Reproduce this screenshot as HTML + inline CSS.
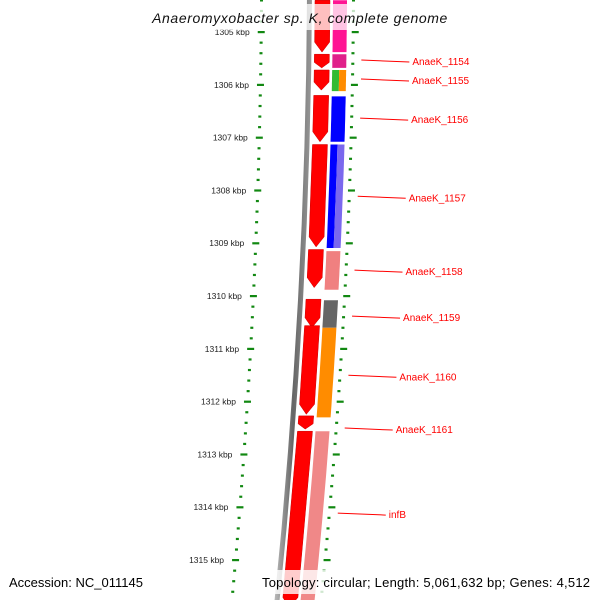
<!DOCTYPE html>
<html><head><meta charset="utf-8"><style>
html,body{margin:0;padding:0;background:#fff;}
svg{display:block;font-family:"Liberation Sans",sans-serif;}
</style></head><body>
<svg id="map" width="600" height="600" viewBox="0 0 600 600">
<defs>
<linearGradient id="gBack" x1="0" x2="1"><stop offset="0" stop-color="#bbb"/><stop offset="0.5" stop-color="#666"/><stop offset="1" stop-color="#999"/></linearGradient>
</defs>
<g id="layer"></g>
<rect x="140" y="4" width="320" height="26" fill="#fff" opacity="0.75"/>
<text x="300" y="23" text-anchor="middle" font-size="14" font-style="italic" letter-spacing="0.6" fill="#111">Anaeromyxobacter sp. K, complete genome</text>
<rect x="258" y="570" width="340" height="24" fill="#fff" opacity="0.8"/>
<text x="9" y="587" font-size="13" fill="#000">Accession: NC_011145</text>
<text x="262" y="587" font-size="13" fill="#000" textLength="328" lengthAdjust="spacing">Topology: circular; Length: 5,061,632 bp; Genes: 4,512</text>
</svg>
<script>
const tickKbp = [1305,1306,1307,1308,1309,1310,1311,1312,1313,1314,1315];
const fwdStart = [1304.4,1305.42,1305.72,1306.2,1307.13,1309.12,1310.06,1310.56,1312.27,1312.56];
const fwdEnd   = [1305.38,1305.68,1306.1,1307.08,1309.07,1309.84,1310.6,1312.24,1312.52,1315.9];
const revStart = [1304.4,1305.42,1305.72,1306.22,1307.13,1309.15,1310.08,1310.6,1312.56];
const revEnd   = [1305.38,1305.68,1306.12,1307.08,1309.09,1309.88,1310.6,1312.3,1315.9];
const revColor = ["#ff1493","#e0208a","green-orange","#0000ff","blue-lavender","#f08080","#666666","#ff8c00","#f08888"];
const geneNames = ["AnaeK_1154","AnaeK_1155","AnaeK_1156","AnaeK_1157","AnaeK_1158","AnaeK_1159","AnaeK_1160","AnaeK_1161","infB"];
const geneLabelKbp = [1305.55,1305.91,1306.65,1308.13,1309.53,1310.4,1311.52,1312.52,1314.13];

const NS="http://www.w3.org/2000/svg";
const layer=document.getElementById('layer');
function yOf(k){return 32+(k-1305)*52.8;}
function sh(y){return -0.006*y-0.00008*y*y;}
function shL(y){return -0.006*y-0.000072*y*y;}
function mk(tag,attrs){const e=document.createElementNS(NS,tag);for(const k in attrs)e.setAttribute(k,attrs[k]);layer.appendChild(e);return e;}
function band(x0,w,y1,y2){
  const pts=[];const n=8;
  for(let i=0;i<=n;i++){const y=y1+(y2-y1)*i/n;pts.push((x0+sh(y)).toFixed(1)+','+y.toFixed(1));}
  for(let i=n;i>=0;i--){const y=y1+(y2-y1)*i/n;pts.push((x0+w+sh(y)).toFixed(1)+','+y.toFixed(1));}
  return pts.join(' ');
}
let bb=mk('polygon',{points:band(307,5,-5,605),fill:'url(#gBack)'});


for(let k=1304.4;k<=1316;k+=0.2){
  const y=yOf(k);
  if(y<-5||y>605)continue;
  const major=Math.abs(k-Math.round(k))<0.01;
  const lx=258+shL(y), rx=352+sh(y);
  const w=major?7:3;
  let t1=mk('rect',{x:lx+(major?0:2),y:y-1,width:w,height:2.2,fill:'#118811'});
  
  
  let t2=mk('rect',{x:rx,y:y-1,width:w,height:2.2,fill:'#118811'});
  
  
}
tickKbp.forEach(k=>{
  const y=yOf(k);
  let t=mk('text',{x:250+shL(y),y:y+3,'font-size':'8.5','text-anchor':'end',fill:'#222'});
  t.textContent=k+' kbp';
  
  
});
fwdStart.forEach((s,i)=>{
  const y1=yOf(s), y2=yOf(fwdEnd[i]);
  const x0=315, w=15, tip=Math.min(10,(y2-y1)*0.4);
  const a=sh(y1), b=sh(y2-tip), c=sh(y2);
  const pts=[[x0+a,y1],[x0+w+a,y1],[x0+w+b,y2-tip],[x0+w/2+c,y2],[x0+b,y2-tip]].map(p=>p[0].toFixed(1)+','+p[1].toFixed(1)).join(' ');
  let g=mk('polygon',{points:pts,fill:'#ff0000',stroke:'#c00','stroke-width':'0.5'});
  
  
});
revStart.forEach((s,i)=>{
  const y1=yOf(s), y2=yOf(revEnd[i]); const col=revColor[i];
  if(col==='green-orange'){
    let a=mk('polygon',{points:band(333,7,y1,y2),fill:'#33bb33'});
     
    let b=mk('polygon',{points:band(340,7,y1,y2),fill:'#ff8c00'});
     
  } else if(col==='blue-lavender'){
    let a=mk('polygon',{points:band(333,7,y1,y2),fill:'#0000ff'});
     
    let b=mk('polygon',{points:band(340,7,y1,y2),fill:'#7b68ee'});
     
  } else {
    let a=mk('polygon',{points:band(333,14,y1,y2),fill:col});
     
  }
});
geneNames.forEach((n,i)=>{
  const y=yOf(geneLabelKbp[i]);
  const x0=362+sh(y);
  let l=mk('line',{x1:x0,y1:y-1,x2:x0+48,y2:y+1,stroke:'#ff0000','stroke-width':'1'});
  
  
  let t=mk('text',{x:x0+51,y:y+4,'font-size':'10',fill:'#ff0000'});
  t.textContent=n;
  
  
});
</script>
</body></html>
